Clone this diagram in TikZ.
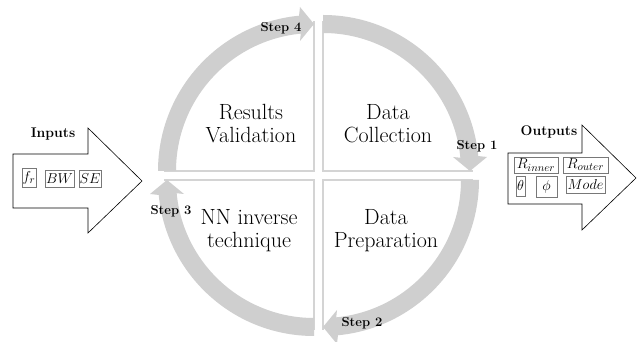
\documentclass[tikz,border=0pt]{standalone}
\definecolor{bandgray}{RGB}{207,207,207}
\definecolor{edgegray}{RGB}{212,212,212}
\definecolor{taggray}{RGB}{120,120,120}
\newcommand\cyclequad[2]{%
 \begin{scope}[shift={#1}, rotate=#2]
  \draw[edge] (0pt,150pt) -- (0pt,0pt) -- (150pt,0pt);
  \fill[band] (90:156pt) arc[start angle=90,end angle=5.5,radius=156pt]
     -- (164pt,14pt) -- (147pt,0pt) -- (130pt,14pt)
     -- (5.5:138pt) arc[start angle=5.5,end angle=90,radius=138pt] -- cycle;
 \end{scope}}
\begin{document}
\begin{tikzpicture}[x=1pt,y=1pt,
  band/.style={fill=bandgray},
  edge/.style={draw=edgegray, line width=1.3pt},
  lbl/.style={font=\fontsize{22}{23}\selectfont, align=center, inner sep=0pt},
  steplbl/.style={font=\fontsize{13}{15}\selectfont\bfseries, inner sep=0pt},
  iolbl/.style={font=\fontsize{14}{16}\selectfont\bfseries, inner sep=0pt},
  ioarrow/.style={draw=black, line width=0.6pt, fill=white},
  tag/.style={draw=taggray, line width=0.6pt, inner sep=0pt, font=\fontsize{15}{16}\selectfont}
]
\useasboundingbox (0,0) rectangle (643,342);
\fill[white] (0,0) rectangle (643,342);

% cycle quadrants
\cyclequad{(323,171)}{0}
\cyclequad{(323,162)}{-90}
\cyclequad{(314,162)}{-180}
\cyclequad{(314,171)}{90}

% quadrant texts
\node[lbl] (valid) at (251,218) {Results\\Validation};
\node[lbl] (collect) at (388,218) {Data\\Collection};
\node[lbl] (nn) at (249,111) {NN inverse\\technique};
\node[lbl] (prep) at (386,111) {Data\\Preparation};

% step labels
\node[steplbl] (s1) at (477,196) {Step 1};
\node[steplbl] (s2) at (362,19) {Step 2};
\node[steplbl] (s3) at (171,131) {Step 3};
\node[steplbl] (s4) at (281,314) {Step 4};

% inputs arrow
\draw[ioarrow] (13,188) -- (88,188) -- (88,214) -- (142,161) -- (88,109) -- (88,134) -- (13,134) -- cycle;
\node[iolbl] (inlbl) at (53,208) {Inputs};
\node[tag, minimum width=14pt, minimum height=19pt] (fr) at (29,164.5) {$f_r$};
\node[tag, minimum width=29pt, minimum height=17pt] (bw) at (59.5,163.5) {$BW$};
\node[tag, minimum width=22pt, minimum height=17pt] (se) at (90,163.5) {$SE$};

% outputs arrow
\draw[ioarrow] (508,189) -- (582,189) -- (582,217) -- (636,164) -- (582,112) -- (582,138) -- (508,138) -- cycle;
\node[iolbl] (outlbl) at (549,210) {Outputs};
\node[tag, minimum width=44pt, minimum height=16pt] (rin) at (536,177) {$R_{inner}$};
\node[tag, minimum width=45pt, minimum height=16pt] (rout) at (585.5,177) {$R_{outer}$};
\node[tag, minimum width=9pt, minimum height=20pt] (th) at (520.5,156) {$\theta$};
\node[tag, minimum width=21pt, minimum height=21pt] (ph) at (546.5,155.5) {$\phi$};
\node[tag, minimum width=39pt, minimum height=17pt] (mode) at (585.5,157.5) {$Mode$};
\end{tikzpicture}
\end{document}
